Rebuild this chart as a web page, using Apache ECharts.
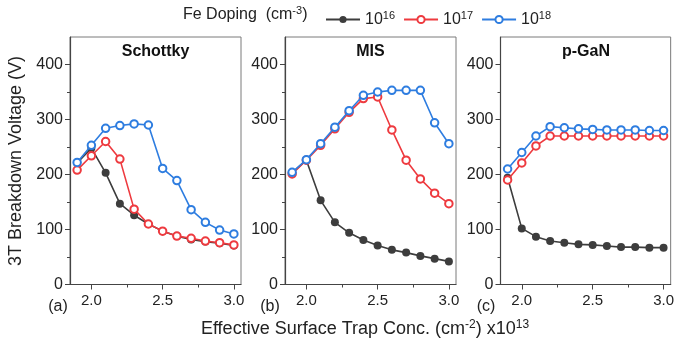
<!DOCTYPE html>
<html>
<head>
<meta charset="utf-8">
<script src="https://cdn.jsdelivr.net/npm/echarts@6/dist/echarts.min.js"></script>
<style>
  html, body { margin: 0; padding: 0; background: #fff; }
  #chart { width: 677px; height: 347px; }
</style>
</head>
<body>
<div id="chart"></div>
<script>
// Effective surface trap concentration (x10^13 cm^-2)
const trapConc = [1.9, 2.0, 2.1, 2.2, 2.3, 2.4, 2.5, 2.6, 2.7, 2.8, 2.9, 3.0];

// Fe doping exponents (cm^-3)
const dopingExp = ['16', '17', '18'];

// 3T breakdown voltage (V) — Schottky gate
const schottky16 = [221, 248, 203, 147, 126, 110, 97, 88, 82, 78, 75, 71];
const schottky17 = [208, 234, 260, 228, 137, 110, 97, 88, 84, 79, 76, 72];
const schottky18 = [222, 253, 284, 289, 292, 290, 211, 189, 136, 113, 99, 92];

// MIS gate
const mis16 = [203, 226, 153, 113, 94, 81, 71, 63, 58, 52, 47, 42];
const mis17 = [201, 226, 253, 283, 313, 338, 341, 281, 226, 192, 166, 147];
const mis18 = [204, 227, 256, 286, 316, 344, 350, 353, 353, 353, 294, 256];

// p-GaN gate
const pgan16 = [194, 102, 87, 79, 76, 73, 72, 70, 68, 68, 67, 67];
const pgan17 = [190, 221, 252, 270, 270, 270, 270, 270, 270, 270, 270, 270];
const pgan18 = [210, 240, 270, 287, 285, 283, 282, 281, 281, 281, 280, 280];

const panelTitles = ['Schottky', 'MIS', 'p-GaN'];
const panelTags = ['(a)', '(b)', '(c)'];
const xMajor = [2.0, 2.5, 3.0];
const xMinor = [2.25, 2.75];
const yMajor = [0, 100, 200, 300, 400];
const yMinor = [50, 150, 250, 350];

const panels = [
  [schottky16, schottky17, schottky18],
  [mis16, mis17, mis18],
  [pgan16, pgan17, pgan18]
];

const FONT = '"Liberation Sans", Arial, sans-serif';
const colors = ['#3d3d3d', '#ee3a3f', '#2e7de0'];
const gridLeft = [70, 285, 500.5];
const gridTop = 37, gridW = 171, gridH = 247.5;
const X_MIN = 1.85, X_MAX = 3.05, Y_MIN = 0, Y_MAX = 450;

const grids = [], xAxes = [], yAxes = [], series = [];

panels.forEach((sets, p) => {
  grids.push({
    left: gridLeft[p], top: gridTop, width: gridW, height: gridH,
    show: true, borderColor: '#7a7a7a', borderWidth: 1, backgroundColor: 'transparent'
  });
  // main x axis: major ticks + labels
  xAxes.push({
    gridIndex: p, type: 'value', position: 'bottom', min: X_MIN, max: X_MAX,
    axisLine: { show: true, onZero: false, lineStyle: { color: '#444', width: 1.2 } },
    axisTick: { show: true, length: 5, customValues: xMajor, lineStyle: { color: '#444' } },
    axisLabel: { customValues: xMajor, margin: 9, fontSize: 15, color: '#222', fontFamily: FONT,
      formatter: v => v.toFixed(1) },
    splitLine: { show: false }
  });
  // minor x ticks
  xAxes.push({
    gridIndex: p, type: 'value', position: 'bottom', min: X_MIN, max: X_MAX,
    axisLine: { show: false, onZero: false },
    axisTick: { show: true, length: 3, customValues: xMinor, lineStyle: { color: '#444' } },
    axisLabel: { show: false },
    splitLine: { show: false }
  });
  // main y axis
  yAxes.push({
    gridIndex: p, type: 'value', position: 'left', min: Y_MIN, max: Y_MAX,
    axisLine: { show: true, onZero: false, lineStyle: { color: '#444', width: 1.2 } },
    axisTick: { show: true, length: 5, customValues: yMajor, lineStyle: { color: '#444' } },
    axisLabel: { customValues: yMajor, margin: 7, fontSize: 16, color: '#222', fontFamily: FONT },
    splitLine: { show: false }
  });
  // minor y ticks
  yAxes.push({
    gridIndex: p, type: 'value', position: 'left', min: Y_MIN, max: Y_MAX,
    axisLine: { show: false, onZero: false },
    axisTick: { show: true, length: 3, customValues: yMinor, lineStyle: { color: '#444' } },
    axisLabel: { show: false },
    splitLine: { show: false }
  });

  sets.forEach((vals, s) => {
    const filled = s === 0;
    series.push({
      name: dopingExp[s],
      type: 'line',
      xAxisIndex: p * 2, yAxisIndex: p * 2,
      data: trapConc.map((x, i) => [x, vals[i]]),
      symbol: filled ? 'circle' : 'emptyCircle',
      symbolSize: filled ? 8 : 7.5,
      lineStyle: { color: colors[s], width: 1.6 },
      itemStyle: filled
        ? { color: colors[s] }
        : { color: colors[s], borderColor: colors[s], borderWidth: 1.8 },
      z: 2 + s,
      animation: false
    });
  });
});

const tagX = [58, 270, 486];
const tagGraphics = panelTags.map((t, p) => ({
  type: 'text', x: tagX[p], y: 307,
  style: { text: t, font: '16px ' + FONT, fill: '#222', align: 'center', verticalAlign: 'middle' }
}));

const panelTitleGraphics = panelTitles.map((t, p) => ({
  type: 'text', x: gridLeft[p] + gridW / 2, y: 52,
  style: { text: t, font: 'bold 16px ' + FONT, fill: '#111', align: 'center', verticalAlign: 'middle' }
}));

const chart = echarts.init(document.getElementById('chart'), null, { renderer: 'canvas' });
chart.setOption({
  animation: false,
  backgroundColor: '#fff',
  grid: grids,
  xAxis: xAxes,
  yAxis: yAxes,
  series: series,
  legend: {
    data: dopingExp,
    left: 320, top: 5,
    itemWidth: 34, itemHeight: 9, itemGap: 8,
    textStyle: {
      fontSize: 16, color: '#222', fontFamily: FONT,
      rich: {
        b: { fontSize: 16, fontFamily: FONT, color: '#222' },
        sup: { fontSize: 11, fontFamily: FONT, color: '#222', verticalAlign: 'top', padding: [0, 0, 8, 0] }
      }
    },
    formatter: n => '{b|10}{sup|' + n + '}'
  },
  graphic: [
    ...panelTitleGraphics,
    ...tagGraphics,
    {
      type: 'text', x: 183, y: 15,
      style: {
        text: '{t|Fe Doping  (cm}{s|-3}{t|)}',
        verticalAlign: 'middle',
        rich: {
          t: { font: '16px ' + FONT, fill: '#222' },
          s: { font: '11px ' + FONT, fill: '#222', padding: [0, 0, 8, 0] }
        }
      }
    },
    {
      type: 'text', x: 16, y: 161, rotation: Math.PI / 2,
      style: { text: '3T Breakdown Voltage (V)', font: '18px ' + FONT, fill: '#222',
        align: 'center', verticalAlign: 'middle' }
    },
    {
      type: 'text', x: 365, y: 329,
      style: {
        text: '{t|Effective Surface Trap Conc. (cm}{s|-2}{t|) x10}{s|13}',
        align: 'center', verticalAlign: 'middle',
        rich: {
          t: { font: '18px ' + FONT, fill: '#222' },
          s: { font: '12px ' + FONT, fill: '#222', padding: [0, 0, 9, 0] }
        }
      }
    }
  ]
});
</script>
</body>
</html>
